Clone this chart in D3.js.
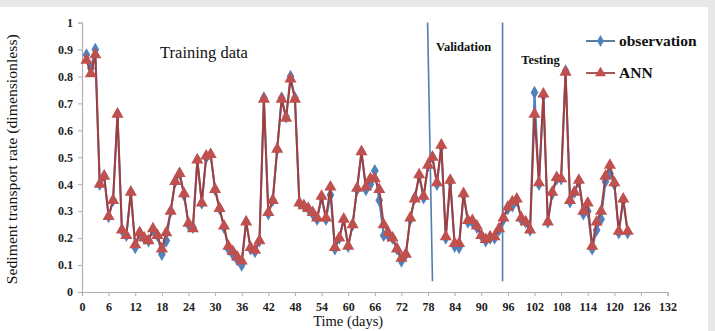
<!DOCTYPE html>
<html>
<head>
<meta charset="utf-8">
<script src="https://cdn.jsdelivr.net/npm/d3@7"></script>
<style>
  body { margin: 0; background: #e8e8ea; }
  svg { display: block; }
</style>
</head>
<body>
<svg id="chart" width="715" height="331"></svg>
<script>
// observed sediment transport rate, day 1..123
const observation = [
  0.88, 0.83, 0.90, 0.40, 0.43, 0.28, 0.34, 0.66, 0.23, 0.21,
  0.37, 0.165, 0.22, 0.20, 0.19, 0.23, 0.21, 0.14, 0.19, 0.30,
  0.41, 0.44, 0.36, 0.25, 0.24, 0.49, 0.33, 0.50, 0.51, 0.38,
  0.31, 0.24, 0.16, 0.14, 0.12, 0.10, 0.26, 0.16, 0.15, 0.19,
  0.72, 0.29, 0.34, 0.53, 0.72, 0.65, 0.80, 0.72, 0.33, 0.32,
  0.31, 0.29, 0.27, 0.35, 0.27, 0.36, 0.16, 0.20, 0.27, 0.17,
  0.25, 0.38, 0.52, 0.38, 0.40, 0.45, 0.34, 0.21, 0.21, 0.20,
  0.16, 0.115, 0.14, 0.27, 0.35, 0.43, 0.35, 0.47, 0.50, 0.40,
  0.54, 0.20, 0.41, 0.17, 0.165, 0.36, 0.26, 0.26, 0.24, 0.21,
  0.19, 0.20, 0.20, 0.23, 0.27, 0.31, 0.32, 0.34, 0.27, 0.26,
  0.23, 0.74, 0.40, 0.73, 0.26, 0.365, 0.42, 0.42, 0.82, 0.335,
  0.37, 0.41, 0.29, 0.30, 0.16, 0.23, 0.27, 0.41, 0.44, 0.40,
  0.22, 0.34, 0.22
];

// ANN prediction, day 1..123
const ann = [
  0.86, 0.81, 0.88, 0.40, 0.43, 0.28, 0.34, 0.66, 0.23, 0.21,
  0.37, 0.175, 0.22, 0.20, 0.19, 0.235, 0.21, 0.16, 0.22, 0.30,
  0.41, 0.44, 0.365, 0.255, 0.235, 0.49, 0.33, 0.505, 0.51, 0.38,
  0.31, 0.245, 0.17, 0.15, 0.13, 0.115, 0.26, 0.165, 0.155, 0.19,
  0.715, 0.295, 0.34, 0.53, 0.715, 0.645, 0.79, 0.715, 0.33, 0.32,
  0.31, 0.295, 0.275, 0.355, 0.275, 0.39, 0.165, 0.20, 0.27, 0.17,
  0.25, 0.385, 0.52, 0.39, 0.42, 0.42, 0.38, 0.25, 0.22, 0.20,
  0.16, 0.125, 0.14, 0.275, 0.345, 0.435, 0.355, 0.47, 0.50, 0.405,
  0.545, 0.205, 0.415, 0.18, 0.18, 0.365, 0.265, 0.265, 0.245, 0.21,
  0.195, 0.205, 0.205, 0.235, 0.275, 0.315, 0.335, 0.345, 0.275, 0.26,
  0.23, 0.66, 0.405, 0.735, 0.26, 0.37, 0.425, 0.42, 0.815, 0.34,
  0.37, 0.415, 0.30, 0.33, 0.17, 0.26, 0.30, 0.43, 0.47, 0.405,
  0.225, 0.345, 0.225
];

const firstDay = 1;
const xTicks = [0, 6, 12, 18, 24, 30, 36, 42, 48, 54, 60, 66, 72, 78, 84, 90, 96, 102, 108, 114, 120, 126, 132];
const yTicks = [0, 0.1, 0.2, 0.3, 0.4, 0.5, 0.6, 0.7, 0.8, 0.9, 1];

// phase separators (first one leans a little, as in the figure)
const separators = [
  { x1: 77.9, y1: 1.0, x2: 79.0, y2: 0.04 },
  { x1: 94.8, y1: 1.0, x2: 94.8, y2: 0.04 }
];

const phaseLabels = [
  { text: 'Training data', day: 17.6, value: 0.87, size: 16.5, weight: 'normal' },
  { text: 'Validation', day: 79.8, value: 0.895, size: 12.5, weight: 'bold' },
  { text: 'Testing', day: 99.0, value: 0.845, size: 12.5, weight: 'bold' }
];

const serif = '"Liberation Serif", "Times New Roman", serif';
const obsColor = '#4f81bd';
const annColor = '#c0504d';
const annLine = '#a23e3d';
const axisColor = '#b0b0b0';

const svg = d3.select('#chart');
const width = 715, height = 331;

// light frame round the white panel
svg.append('rect').attr('x', 0).attr('y', 0).attr('width', width).attr('height', height).attr('fill', '#e8e8ea');
svg.append('rect').attr('x', 0).attr('y', 7).attr('width', 708).attr('height', height - 7).attr('fill', '#ffffff');

const margin = { top: 22.5, left: 82, right: 715 - 667.6, bottom: 331 - 292 };
const innerW = width - margin.left - margin.right;
const innerH = height - margin.top - margin.bottom;

const x = d3.scaleLinear().domain([0, 132]).range([0, innerW]);
const y = d3.scaleLinear().domain([0, 1]).range([innerH, 0]);

const g = svg.append('g').attr('transform', `translate(${margin.left},${margin.top})`);

// axes
const xAxis = g.append('g')
  .attr('transform', `translate(0,${innerH})`)
  .call(d3.axisBottom(x).tickValues(xTicks).tickSize(4).tickPadding(6).tickFormat(d3.format('d')));
const yAxis = g.append('g')
  .call(d3.axisLeft(y).tickValues(yTicks).tickSize(4).tickPadding(5).tickFormat(d => d === 0 ? '0' : d === 1 ? '1' : d3.format('.1f')(d)));

[xAxis, yAxis].forEach(ax => {
  ax.select('.domain').attr('stroke', axisColor).attr('stroke-width', 1.2);
  ax.selectAll('line').attr('stroke', axisColor);
  ax.selectAll('text')
    .attr('fill', '#222')
    .style('font-family', serif)
    .style('font-weight', 'bold')
    .style('font-size', '12px');
});

// separators
g.selectAll('.sep')
  .data(separators)
  .join('line')
  .attr('class', 'sep')
  .attr('x1', d => x(d.x1)).attr('y1', d => y(d.y1))
  .attr('x2', d => x(d.x2)).attr('y2', d => y(d.y2))
  .attr('stroke', '#4f7fae')
  .attr('stroke-width', 1.6);

// series
const obsData = observation.map((v, i) => ({ day: firstDay + i, value: v }));
const annData = ann.map((v, i) => ({ day: firstDay + i, value: v }));

const line = d3.line().x(d => x(d.day)).y(d => y(d.value));

g.append('path').datum(obsData)
  .attr('fill', 'none').attr('stroke', obsColor).attr('stroke-width', 2).attr('d', line);
g.selectAll('.obs')
  .data(obsData)
  .join('path')
  .attr('class', 'obs')
  .attr('transform', d => `translate(${x(d.day)},${y(d.value)})`)
  .attr('d', d3.symbol().type(d3.symbolDiamond).size(52))
  .attr('fill', obsColor);

g.append('path').datum(annData)
  .attr('fill', 'none').attr('stroke', annLine).attr('stroke-width', 2).attr('d', line);
g.selectAll('.ann')
  .data(annData)
  .join('path')
  .attr('class', 'ann')
  .attr('transform', d => `translate(${x(d.day)},${y(d.value)})`)
  .attr('d', d3.symbol().type(d3.symbolTriangle).size(64))
  .attr('fill', annColor);

// phase labels
g.selectAll('.phase')
  .data(phaseLabels)
  .join('text')
  .attr('class', 'phase')
  .attr('x', d => x(d.day))
  .attr('y', d => y(d.value))
  .style('font-family', serif)
  .style('font-size', d => d.size + 'px')
  .style('font-weight', d => d.weight)
  .attr('fill', '#111')
  .text(d => d.text);

// legend
const legendItems = [
  { label: 'observation', color: obsColor, lineColor: '#5b7f9e', symbol: d3.symbolDiamond, size: 40, y: 41 },
  { label: 'ANN', color: annColor, lineColor: '#a65a5a', symbol: d3.symbolTriangle, size: 52, y: 73 }
];
const legend = svg.append('g');
legendItems.forEach(item => {
  const row = legend.append('g').attr('transform', `translate(586,${item.y})`);
  row.append('line').attr('x1', 0).attr('x2', 29).attr('y1', 0).attr('y2', 0)
    .attr('stroke', item.lineColor).attr('stroke-width', 2);
  row.append('path').attr('transform', 'translate(14.5,0)')
    .attr('d', d3.symbol().type(item.symbol).size(item.size)).attr('fill', item.color);
  row.append('text').attr('x', 33).attr('y', 5)
    .style('font-family', serif).style('font-weight', 'bold').style('font-size', '15.5px')
    .attr('fill', '#111').text(item.label);
});

// axis titles
svg.append('text')
  .attr('x', margin.left + x(60))
  .attr('y', 326)
  .attr('text-anchor', 'middle')
  .style('font-family', serif).style('font-size', '14.5px').attr('fill', '#111')
  .text('Time (days)');

svg.append('text')
  .attr('transform', `translate(17,${margin.top + innerH / 2 + 2}) rotate(-90)`)
  .attr('text-anchor', 'middle')
  .attr('textLength', 250)
  .attr('lengthAdjust', 'spacingAndGlyphs')
  .style('font-family', serif).style('font-size', '14px').attr('fill', '#111')
  .text('Sediment transport rate (dimensionless)');
</script>
</body>
</html>
